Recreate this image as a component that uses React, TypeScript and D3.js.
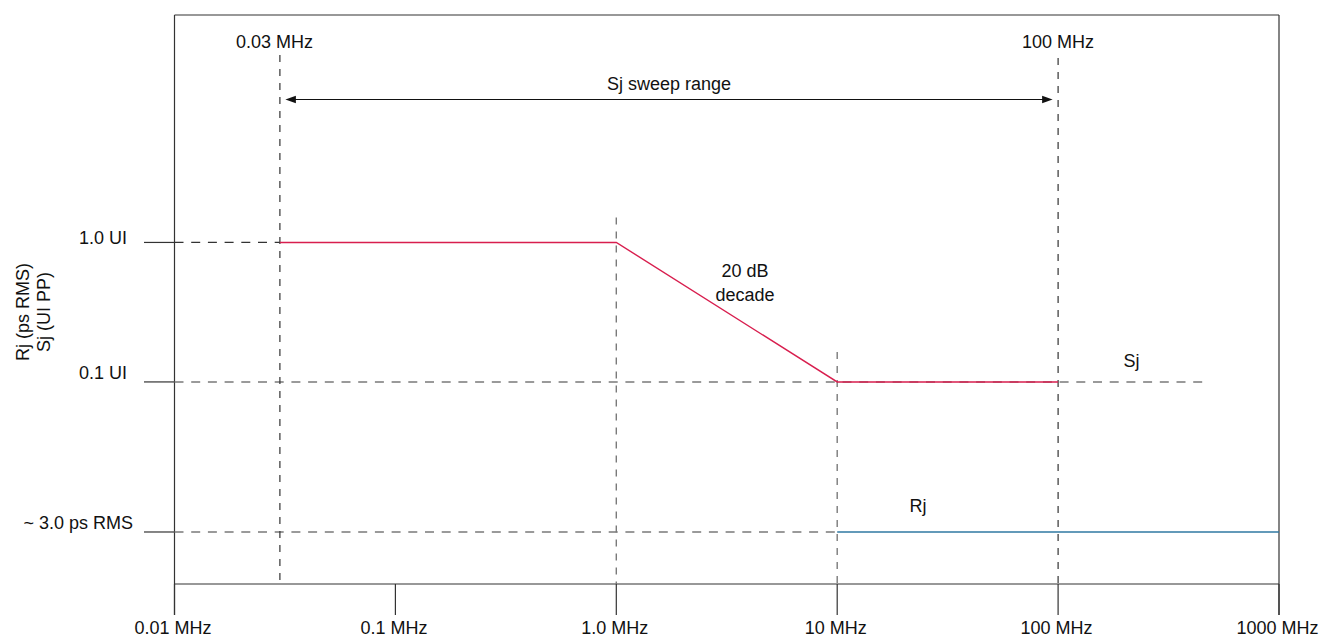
import React from "react";
import * as d3 from "d3";

// ---- data ----
const xTickValues = [0.01, 0.1, 1, 10, 100, 1000];
const xTickLabels = ["0.01 MHz", "0.1 MHz", "1.0 MHz", "10 MHz", "100 MHz", "1000 MHz"];

const sjLevels = [1.0, 0.1];
const sjLevelLabels = ["1.0 UI", "0.1 UI"];
const rjLevel = 0.0084; // nominal drawing level for Rj (~3.0 ps RMS)
const rjLabel = "~ 3.0 ps RMS";

const sjFreq = [0.03, 1, 10, 100];
const sjValue = [1.0, 1.0, 0.1, 0.1];

const rjFreq = [10, 1000];

const sweepStart = 0.03;
const sweepEnd = 100;
const sjExtendTo = 480;

const W = 1323;
const H = 638;
const FONT = "'Liberation Sans', Arial, Helvetica, sans-serif";

export default function App() {
  const left = 174.5;
  const right = 1279;
  const top = 15;
  const axisY = 584;
  const tickBottom = 615;
  const tickLeft = 144;

  const x = d3.scaleLog().domain([0.01, 1000]).range([left, right]);
  const y = d3.scaleLog().domain([0.00356, 42.7]).range([axisY, top]);

  const line = d3
    .line<[number, number]>()
    .x((d) => x(d[0]))
    .y((d) => y(d[1]));

  const sjPts: [number, number][] = sjFreq.map((f, i) => [f, sjValue[i]]);
  const rjPts: [number, number][] = rjFreq.map((f) => [f, rjLevel]);

  const xs = x(sweepStart);
  const xe = x(sweepEnd);
  const arrowY = 99.5;

  const dark = "#333";
  const grey = "#7a7a7a";
  const red = "#d81e4e";
  const blue = "#2f78a2";

  const y1 = y(1.0);
  const y01 = y(0.1);
  const yrj = y(rjLevel);

  return (
    <svg
      width={W}
      height={H}
      style={{ position: "absolute", left: 0, top: 0, background: "#fff" }}
      fontFamily={FONT}
      fontSize={18}
    >
      {/* frame */}
      <line x1={left} x2={right} y1={top} y2={top} stroke={dark} strokeWidth={1.2} />
      <line x1={left} x2={left} y1={top} y2={tickBottom} stroke={dark} strokeWidth={1.2} />
      <line x1={right} x2={right} y1={top} y2={tickBottom} stroke={dark} strokeWidth={1.2} />
      <line x1={left} x2={right} y1={axisY} y2={axisY} stroke={dark} strokeWidth={1.2} />

      {/* x ticks */}
      {xTickValues.map((v, i) => (
        <g key={"xt" + i}>
          <line x1={x(v)} x2={x(v)} y1={axisY} y2={tickBottom} stroke={dark} strokeWidth={1.2} />
          <text x={x(v) - 1.5} y={634} textAnchor="middle" fill="#111">
            {xTickLabels[i]}
          </text>
        </g>
      ))}

      {/* left level ticks */}
      {[y1, y01, yrj].map((yy, i) => (
        <line key={"lt" + i} x1={tickLeft} x2={left} y1={yy} y2={yy} stroke={dark} strokeWidth={1.2} />
      ))}
      {sjLevels.map((v, i) => (
        <text key={"sl" + i} x={127} y={y(v) + (i === 0 ? 2 : -2.5)} textAnchor="end" fill="#111">
          {sjLevelLabels[i]}
        </text>
      ))}
      <text x={133} y={yrj - 2.5} textAnchor="end" fill="#111">
        {rjLabel}
      </text>

      {/* y axis title */}
      <g transform={`translate(28.5,312) rotate(-90)`}>
        <text textAnchor="middle" fill="#111">Rj (ps RMS)</text>
      </g>
      <g transform={`translate(49.5,312) rotate(-90)`}>
        <text textAnchor="middle" fill="#111">Sj (UI PP)</text>
      </g>

      {/* horizontal dashed guides */}
      <line x1={left} x2={xs} y1={y1} y2={y1} stroke={dark} strokeWidth={1.2} strokeDasharray="9,7.7" />
      <line x1={left} x2={x(sjExtendTo)} y1={y01} y2={y01} stroke={grey} strokeWidth={1.5} strokeDasharray="9,7.7" />
      <line x1={left} x2={x(rjFreq[0])} y1={yrj} y2={yrj} stroke={grey} strokeWidth={1.3} strokeDasharray="9,7.7" />

      {/* vertical dashed guides */}
      <line x1={xs} x2={xs} y1={55} y2={axisY} stroke={dark} strokeWidth={1.2} strokeDasharray="7,7" />
      <line x1={xe} x2={xe} y1={58} y2={axisY} stroke={dark} strokeWidth={1.2} strokeDasharray="7,7" />
      <line x1={x(1)} x2={x(1)} y1={y1 - 25} y2={axisY} stroke={grey} strokeWidth={1.4} strokeDasharray="7,7" />
      <line x1={x(10)} x2={x(10)} y1={y01 - 30} y2={axisY} stroke={grey} strokeWidth={1.4} strokeDasharray="7,7" />

      {/* top frequency labels */}
      <text x={xs - 5.5} y={48} textAnchor="middle" fill="#111">0.03 MHz</text>
      <text x={xe} y={48} textAnchor="middle" fill="#111">100 MHz</text>

      {/* sweep arrow */}
      <line x1={xs + 8} x2={xe - 8} y1={arrowY} y2={arrowY} stroke="#111" strokeWidth={1.2} />
      <path d={`M${xs + 5.5},${arrowY} L${xs + 16},${arrowY - 3.8} L${xs + 16},${arrowY + 3.8} Z`} fill="#111" />
      <path d={`M${xe - 5.5},${arrowY} L${xe - 16},${arrowY - 3.8} L${xe - 16},${arrowY + 3.8} Z`} fill="#111" />
      <text x={669} y={90} textAnchor="middle" fill="#111">Sj sweep range</text>

      {/* Sj curve */}
      <path d={line(sjPts) || ""} fill="none" stroke={red} strokeWidth={1.4} />
      {/* Rj line */}
      <path d={line(rjPts) || ""} fill="none" stroke={blue} strokeWidth={1.3} />

      {/* annotations */}
      <text x={745} y={277} textAnchor="middle" fill="#111">20 dB</text>
      <text x={745} y={301} textAnchor="middle" fill="#111">decade</text>
      <text x={1131.5} y={367} textAnchor="middle" fill="#111">Sj</text>
      <text x={918} y={512} textAnchor="middle" fill="#111">Rj</text>
    </svg>
  );
}
